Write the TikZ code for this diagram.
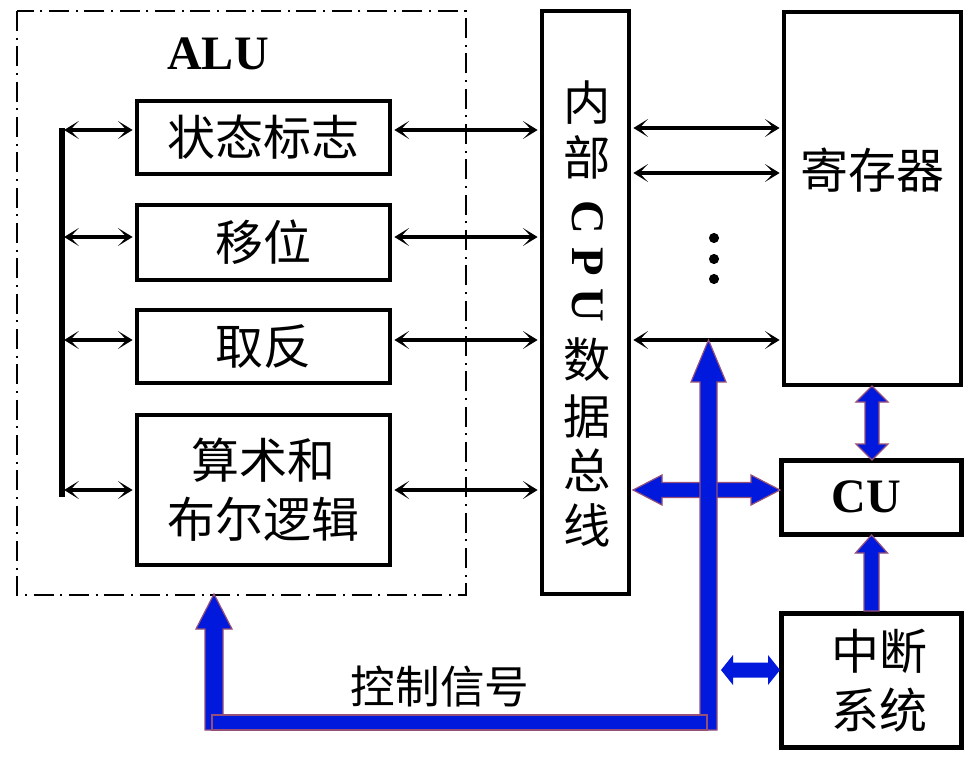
\documentclass[tikz,border=0pt]{standalone}
\usepackage{fontspec}
\setmainfont{Liberation Serif}
\newfontfamily\cjk{Noto Sans CJK SC}
\usetikzlibrary{arrows.meta}
\definecolor{barblue}{RGB}{0,25,220}
\definecolor{barline}{RGB}{150,80,120}
\begin{document}
\begin{tikzpicture}[x=0.75pt,y=-0.75pt,
  box/.style 2 args={draw,line width=3.4pt,inner sep=0pt,minimum width=#1*0.75pt,minimum height=#2*0.75pt},
  zh/.style={font=\cjk\fontsize{36}{44.25}\selectfont,inner sep=0pt},
  zhbus/.style={font=\cjk\fontsize{35.5}{40}\selectfont,inner sep=0pt},
  lat/.style={font=\bfseries\fontsize{36}{40}\selectfont,inner sep=0pt},
  latbus/.style={font=\bfseries\fontsize{35}{40}\selectfont,inner sep=0pt,rotate=-90},
  dbl/.style={line width=3pt,shorten <=1.6pt,shorten >=1.6pt,
    {Stealth[length=11pt,width=13.5pt,inset=6.5pt]}-{Stealth[length=11pt,width=13.5pt,inset=6.5pt]}},
  blueshape/.style={fill=barblue,draw=barline,line width=0.9pt,line join=miter}]
\useasboundingbox (0,0) rectangle (975,759);
\fill[white] (0,0) rectangle (975,759);

% ALU frame
\draw[line width=1.1pt,dash pattern=on 15pt off 5pt on 1.5pt off 5pt] (17,11) rectangle (466,595);
\node[lat] (alu) at (218,54) {ALU};

% ALU boxes
\node[box={253}{73},zh] (flag) at (263.5,137.5) {状态标志};
\node[box={253}{75},zh] (shift) at (263.5,242.5) {移位};
\node[box={253}{73},zh] (neg) at (263.5,346.5) {取反};
\node[box={253}{150},zh,align=center] (arith) at (263.5,490) {算术和\\布尔逻辑};

% internal bus
\node[box={87}{583}] (bus) at (585.5,302.5) {};
\node[zhbus] (t1) at (587,103) {内};
\node[zhbus] (t2) at (587,157) {部};
\node[latbus] (t3) at (588,217) {C};
\node[latbus] (t4) at (588,262) {P};
\node[latbus] (t5) at (588,305) {U};
\node[zhbus] (t6) at (587,360) {数};
\node[zhbus] (t7) at (587,417) {据};
\node[zhbus] (t8) at (587,470) {总};
\node[zhbus] (t9) at (587,525) {线};

% registers, CU, interrupt
\node[box={177}{373}] (reg) at (872.5,198.5) {};
\node[zh] (regtxt) at (872,170) {寄存器};
\node[box={180}{74}] (cu) at (871.5,497.5) {};
\node[lat] (cutxt) at (866,497) {CU};
\node[box={180}{134}] (int) at (871.5,680.5) {};
\node[zh,align=center] (inttxt) at (879,681) {中断\\系统};

% left bar and ALU arrows
\coordinate (b1) at (62,130);
\coordinate (b2) at (62,237);
\coordinate (b3) at (62,340);
\coordinate (b4) at (62,490);
\coordinate (btop) at (62,128.3);
\coordinate (bbot) at (62,497);
\draw[line width=4.2pt] (btop) -- (bbot);
\draw[dbl] (b1) -- (b1 -| flag.west);
\draw[dbl] (b2) -- (b2 -| shift.west);
\draw[dbl] (b3) -- (b3 -| neg.west);
\draw[dbl] (b4) -- (b4 -| arith.west);
\draw[dbl] (b1 -| flag.east) -- (b1 -| bus.west);
\draw[dbl] (b2 -| shift.east) -- (b2 -| bus.west);
\draw[dbl] (b3 -| neg.east) -- (b3 -| bus.west);
\draw[dbl] (b4 -| arith.east) -- (b4 -| bus.west);

% bus to registers
\coordinate (r1) at (700,128);
\coordinate (r2) at (700,173);
\coordinate (r3) at (700,340);
\draw[dbl] (r1 -| bus.east) -- (r1 -| reg.west);
\draw[dbl] (r2 -| bus.east) -- (r2 -| reg.west);
\draw[dbl] (r3 -| bus.east) -- (r3 -| reg.west);
\fill (714,238) circle[radius=3.8pt];
\fill (714,259) circle[radius=3.8pt];
\fill (714,279) circle[radius=3.8pt];

% blue arrows
% bus <-> CU
\draw[blueshape] (633,490) -- (662,475) -- (662,482.5) -- (751,482.5) -- (751,475) -- (780,490)
  -- (751,505) -- (751,497.5) -- (662,497.5) -- (662,505) -- cycle;
% reg <-> CU
\draw[blueshape] (872,386) -- (888,402) -- (879,402) -- (879,444) -- (888,444) -- (872,460)
  -- (856,444) -- (865,444) -- (865,402) -- (856,402) -- cycle;
% interrupt -> CU
\draw[blueshape] (871.5,535) -- (887.5,553) -- (879,553) -- (879,611) -- (864,611) -- (864,553)
  -- (855.5,553) -- cycle;
% control signal lines
\draw[blueshape] (205,730) -- (205,629) -- (196,629) -- (214,594) -- (232,629) -- (223,629)
  -- (223,730) -- cycle;
\draw[blueshape] (700,730) -- (700,382) -- (691,382) -- (708.5,340) -- (726,382) -- (717,382)
  -- (717,730) -- cycle;
\draw[blueshape] (212,715) rectangle (707,730);
% interrupt <-> control line
\fill[barblue] (721,670) -- (733,655) -- (733,662.5) -- (768,662.5) -- (768,655) -- (780,670)
  -- (768,685) -- (768,677.5) -- (733,677.5) -- (733,685) -- cycle;
\node[font=\cjk\fontsize{33.5}{40}\selectfont,inner sep=0pt] (ctrl) at (440,687) {控制信号};
\end{tikzpicture}
\end{document}
